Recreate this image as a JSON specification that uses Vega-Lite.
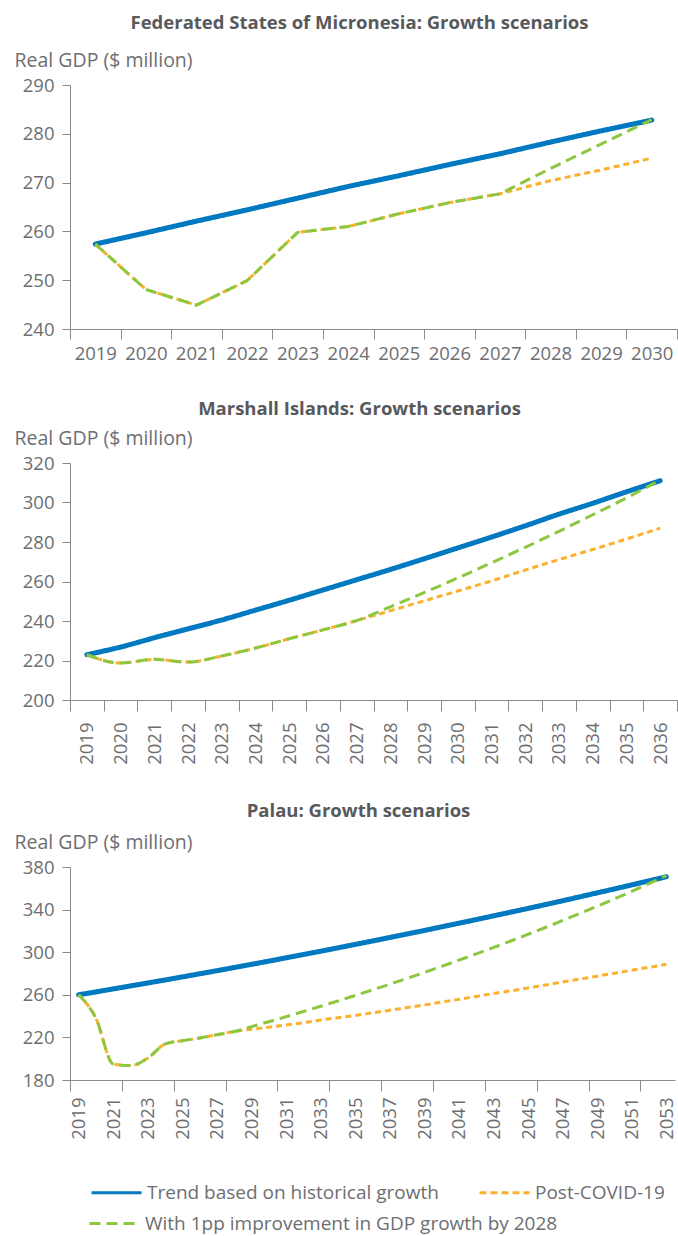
{
  "$schema": "https://vega.github.io/schema/vega-lite/v6.json",
  "padding": {"left": 14, "top": 13, "right": 0, "bottom": 0},
  "config": {
    "font": "Open Sans",
    "view": {"stroke": null},
    "axis": {"labelFont": "Open Sans", "labelFontSize": 18.5, "labelColor": "#6d6e71", "domainColor": "#8a8a8a", "tickColor": "#8a8a8a", "grid": false, "titleFont": "Open Sans", "titleFontSize": 19.5, "titleFontWeight": "normal", "titleColor": "#6d6e71"},
    "title": {"font": "Open Sans", "fontSize": 18.5, "fontWeight": "bold", "color": "#58595b", "anchor": "middle", "baseline": "bottom", "dx": -14},
    "concat": {"spacing": 36}
  },
  "resolve": {"scale": {"color": "independent", "strokeDash": "independent"}},
  "datasets": {
    "fsm": [
      {"year": 2019, "trend": 257.4, "covid": 257.4, "improve": 257.4},
      {"year": 2020, "trend": 259.7, "covid": 248.1, "improve": 248.1},
      {"year": 2021, "trend": 262.1, "covid": 244.9, "improve": 244.9},
      {"year": 2022, "trend": 264.4, "covid": 249.9, "improve": 249.9},
      {"year": 2023, "trend": 266.8, "covid": 259.8, "improve": 259.8},
      {"year": 2024, "trend": 269.2, "covid": 261.0, "improve": 261.0},
      {"year": 2025, "trend": 271.4, "covid": 263.6, "improve": 263.6},
      {"year": 2026, "trend": 273.7, "covid": 265.9, "improve": 265.9},
      {"year": 2027, "trend": 275.9, "covid": 267.7, "improve": 267.7},
      {"year": 2028, "trend": 278.3, "covid": 270.4, "improve": 272.9},
      {"year": 2029, "trend": 280.6, "covid": 272.6, "improve": 277.9},
      {"year": 2030, "trend": 282.8, "covid": 275.0, "improve": 282.9}
    ],
    "rmi": [
      {"year": 2019, "trend": 222.9, "covid": 222.9, "improve": 222.9},
      {"year": 2020, "trend": 226.8, "covid": 218.7, "improve": 218.7},
      {"year": 2021, "trend": 231.5, "covid": 220.6, "improve": 220.6},
      {"year": 2022, "trend": 236.0, "covid": 219.2, "improve": 219.2},
      {"year": 2023, "trend": 240.5, "covid": 222.3, "improve": 222.3},
      {"year": 2024, "trend": 245.5, "covid": 226.3, "improve": 226.3},
      {"year": 2025, "trend": 250.5, "covid": 231.0, "improve": 231.0},
      {"year": 2026, "trend": 255.7, "covid": 235.5, "improve": 235.5},
      {"year": 2027, "trend": 260.9, "covid": 240.2, "improve": 240.2},
      {"year": 2028, "trend": 266.1, "covid": 245.2, "improve": 247.2},
      {"year": 2029, "trend": 271.5, "covid": 250.2, "improve": 254.4},
      {"year": 2030, "trend": 277.0, "covid": 255.2, "improve": 261.8},
      {"year": 2031, "trend": 282.5, "covid": 260.3, "improve": 269.5},
      {"year": 2032, "trend": 288.2, "covid": 265.8, "improve": 277.3},
      {"year": 2033, "trend": 294.1, "covid": 271.1, "improve": 285.4},
      {"year": 2034, "trend": 299.6, "covid": 276.2, "improve": 293.8},
      {"year": 2035, "trend": 305.4, "covid": 281.5, "improve": 302.3},
      {"year": 2036, "trend": 311.0, "covid": 287.0, "improve": 311.4}
    ],
    "plw": [
      {"year": 2019, "trend": 260.0, "covid": 260.0, "improve": 260.0},
      {"year": 2020, "trend": 262.7, "covid": 238.0, "improve": 238.0},
      {"year": 2021, "trend": 265.5, "covid": 195.0, "improve": 195.0},
      {"year": 2022, "trend": 268.3, "covid": 193.5, "improve": 193.5},
      {"year": 2023, "trend": 271.1, "covid": 200.5, "improve": 200.5},
      {"year": 2024, "trend": 273.9, "covid": 213.8, "improve": 213.8},
      {"year": 2025, "trend": 276.8, "covid": 216.9, "improve": 216.9},
      {"year": 2026, "trend": 279.7, "covid": 219.4, "improve": 219.4},
      {"year": 2027, "trend": 282.6, "covid": 222.5, "improve": 222.5},
      {"year": 2028, "trend": 285.6, "covid": 225.5, "improve": 225.5},
      {"year": 2029, "trend": 288.6, "covid": 227.7, "improve": 230.1},
      {"year": 2030, "trend": 291.6, "covid": 229.5, "improve": 234.7},
      {"year": 2031, "trend": 294.7, "covid": 231.7, "improve": 239.4},
      {"year": 2032, "trend": 297.8, "covid": 233.8, "improve": 244.3},
      {"year": 2033, "trend": 300.9, "covid": 236.3, "improve": 249.2},
      {"year": 2034, "trend": 304.1, "covid": 238.5, "improve": 254.2},
      {"year": 2035, "trend": 307.3, "covid": 240.6, "improve": 259.4},
      {"year": 2036, "trend": 310.5, "covid": 243.1, "improve": 264.6},
      {"year": 2037, "trend": 313.8, "covid": 245.5, "improve": 270.0},
      {"year": 2038, "trend": 317.1, "covid": 248.0, "improve": 275.4},
      {"year": 2039, "trend": 320.4, "covid": 250.5, "improve": 281.0},
      {"year": 2040, "trend": 323.8, "covid": 253.2, "improve": 286.7},
      {"year": 2041, "trend": 327.2, "covid": 255.7, "improve": 292.5},
      {"year": 2042, "trend": 330.6, "covid": 258.5, "improve": 298.4},
      {"year": 2043, "trend": 334.1, "covid": 261.2, "improve": 304.4},
      {"year": 2044, "trend": 337.6, "covid": 263.7, "improve": 310.5},
      {"year": 2045, "trend": 341.1, "covid": 266.5, "improve": 316.8},
      {"year": 2046, "trend": 344.7, "covid": 269.2, "improve": 323.2},
      {"year": 2047, "trend": 348.3, "covid": 272.0, "improve": 329.8},
      {"year": 2048, "trend": 352.0, "covid": 274.8, "improve": 336.4},
      {"year": 2049, "trend": 355.7, "covid": 277.5, "improve": 343.2},
      {"year": 2050, "trend": 359.4, "covid": 280.3, "improve": 350.1},
      {"year": 2051, "trend": 363.2, "covid": 283.1, "improve": 357.2},
      {"year": 2052, "trend": 367.0, "covid": 285.8, "improve": 364.4},
      {"year": 2053, "trend": 370.8, "covid": 288.6, "improve": 371.8}
    ]
  },
  "vconcat": [
    {
      "title": {"text": "Federated States of Micronesia: Growth scenarios", "offset": 18},
      "width": 607, "height": 244,
      "data": {"name": "fsm"},
      "transform": [{"fold": ["trend", "covid", "improve"], "as": ["s", "v"]}],
      "encoding": {
        "x": {"field": "year", "type": "quantitative",
          "scale": {"domain": [2018.5, 2030.5], "nice": false, "zero": false},
          "axis": {"title": null, "values": [2018.5, 2019, 2019.5, 2020, 2020.5, 2021, 2021.5, 2022, 2022.5, 2023, 2023.5, 2024, 2024.5, 2025, 2025.5, 2026, 2026.5, 2027, 2027.5, 2028, 2028.5, 2029, 2029.5, 2030, 2030.5],
            "labelExpr": "datum.value % 1 == 0 ? '' + datum.value : ''", "labelAngle": 0, "labelOverlap": false, "labelFlush": false, "tickSize": 10, "labelPadding": 5,
            "tickOpacity": {"condition": {"test": "datum.value % 1 != 0", "value": 1}, "value": 0}}},
        "y": {"field": "v", "type": "quantitative",
          "scale": {"domain": [240, 290], "nice": false, "zero": false},
          "axis": {"title": "Real GDP ($ million)", "values": [240, 250, 260, 270, 280, 290], "tickSize": 8, "labelPadding": 8, "titleAngle": 0, "titleAlign": "left", "titleBaseline": "middle", "titleX": -56, "titleY": -25}},
        "color": {"field": "s", "type": "nominal", "scale": {"domain": ["trend", "covid", "improve"], "range": ["#0079c1", "#fbb12d", "#8dc63f"]}, "legend": null},
        "strokeDash": {"field": "s", "type": "nominal", "scale": {"domain": ["trend", "covid", "improve"], "range": [[1, 0], [6, 4], [11, 6]]}, "legend": null}
      },
      "layer": [
        {"transform": [{"filter": "datum.s == 'trend'"}], "mark": {"type": "line", "strokeWidth": 5, "strokeCap": "round"}},
        {"transform": [{"filter": "datum.s == 'covid'"}], "mark": {"type": "line", "strokeWidth": 3}},
        {"transform": [{"filter": "datum.s == 'improve'"}], "mark": {"type": "line", "strokeWidth": 3}}
      ]
    },
    {
      "title": {"text": "Marshall Islands: Growth scenarios", "offset": 10},
      "width": 607, "height": 237,
      "data": {"name": "rmi"},
      "transform": [{"fold": ["trend", "covid", "improve"], "as": ["s", "v"]}],
      "encoding": {
        "x": {"field": "year", "type": "quantitative",
          "scale": {"domain": [2018.5, 2036.5], "nice": false, "zero": false},
          "axis": {"title": null, "values": [2018.5, 2019, 2019.5, 2020, 2020.5, 2021, 2021.5, 2022, 2022.5, 2023, 2023.5, 2024, 2024.5, 2025, 2025.5, 2026, 2026.5, 2027, 2027.5, 2028, 2028.5, 2029, 2029.5, 2030, 2030.5, 2031, 2031.5, 2032, 2032.5, 2033, 2033.5, 2034, 2034.5, 2035, 2035.5, 2036, 2036.5],
            "labelExpr": "datum.value % 1 == 0 ? '' + datum.value : ''", "labelAngle": -90, "labelAlign": "right", "labelBaseline": "middle", "labelOverlap": false, "labelFlush": false, "tickSize": 11, "labelPadding": 11,
            "tickOpacity": {"condition": {"test": "datum.value % 1 != 0", "value": 1}, "value": 0}}},
        "y": {"field": "v", "type": "quantitative",
          "scale": {"domain": [200, 320], "nice": false, "zero": false},
          "axis": {"title": "Real GDP ($ million)", "values": [200, 220, 240, 260, 280, 300, 320], "tickSize": 8, "labelPadding": 8, "titleAngle": 0, "titleAlign": "left", "titleBaseline": "middle", "titleX": -56, "titleY": -25}},
        "color": {"field": "s", "type": "nominal", "scale": {"domain": ["trend", "covid", "improve"], "range": ["#0079c1", "#fbb12d", "#8dc63f"]}, "legend": null},
        "strokeDash": {"field": "s", "type": "nominal", "scale": {"domain": ["trend", "covid", "improve"], "range": [[1, 0], [6, 4], [11, 6]]}, "legend": null}
      },
      "layer": [
        {"transform": [{"filter": "datum.s == 'trend'"}], "mark": {"type": "line", "strokeWidth": 5, "strokeCap": "round", "interpolate": "monotone"}},
        {"transform": [{"filter": "datum.s == 'covid'"}], "mark": {"type": "line", "strokeWidth": 3, "interpolate": "monotone"}},
        {"transform": [{"filter": "datum.s == 'improve'"}], "mark": {"type": "line", "strokeWidth": 3, "interpolate": "monotone"}}
      ]
    },
    {
      "title": {"text": "Palau: Growth scenarios", "offset": 12},
      "width": 605, "height": 213,
      "data": {"name": "plw"},
      "transform": [{"fold": ["trend", "covid", "improve"], "as": ["s", "v"]}],
      "encoding": {
        "x": {"field": "year", "type": "quantitative",
          "scale": {"domain": [2018.5, 2053.5], "nice": false, "zero": false},
          "axis": {"title": null, "values": [2018.5, 2019, 2021, 2021.5, 2023, 2024.5, 2025, 2027, 2027.5, 2029, 2030.5, 2031, 2033, 2033.5, 2035, 2036.5, 2037, 2039, 2039.5, 2041, 2042.5, 2043, 2045, 2045.5, 2047, 2048.5, 2049, 2051, 2051.5, 2053],
            "labelExpr": "datum.value % 1 == 0 ? '' + datum.value : ''", "labelAngle": -90, "labelAlign": "right", "labelBaseline": "middle", "labelOverlap": false, "labelFlush": false, "tickSize": 11, "labelPadding": 6,
            "tickOpacity": {"condition": {"test": "datum.value % 1 != 0", "value": 1}, "value": 0}}},
        "y": {"field": "v", "type": "quantitative",
          "scale": {"domain": [180, 380], "nice": false, "zero": false},
          "axis": {"title": "Real GDP ($ million)", "values": [180, 220, 260, 300, 340, 380], "tickSize": 8, "labelPadding": 8, "titleAngle": 0, "titleAlign": "left", "titleBaseline": "middle", "titleX": -56, "titleY": -25}},
        "color": {"field": "s", "type": "nominal", "scale": {"domain": ["trend", "covid", "improve"], "range": ["#0079c1", "#fbb12d", "#8dc63f"]},
          "legend": {"orient": "none", "legendX": 20, "legendY": 299, "direction": "horizontal", "values": ["trend", "covid"], "title": null, "symbolType": "stroke", "symbolSize": 2500, "symbolStrokeWidth": 3, "labelFont": "Open Sans", "labelFontSize": 19, "labelColor": "#6d6e71", "labelLimit": 0, "columnPadding": 34, "labelOffset": 4,
            "labelExpr": "datum.label == 'trend' ? 'Trend based on historical growth' : 'Post-COVID-19'",
            "encode": {"symbols": {"update": {"strokeDash": {"signal": "datum.value == 'covid' ? [7, 4] : [1, 0]"}}}}}},
        "strokeDash": {"field": "s", "type": "nominal", "scale": {"domain": ["improve", "covid", "trend"], "range": [[11, 6], [6, 4], [1, 0]]},
          "legend": {"orient": "none", "legendX": 18, "legendY": 330, "direction": "horizontal", "values": ["improve"], "title": null, "symbolType": "stroke", "symbolSize": 2500, "symbolStrokeWidth": 3, "symbolStrokeColor": "#8dc63f", "labelFont": "Open Sans", "labelFontSize": 19, "labelColor": "#6d6e71", "labelLimit": 0, "labelOffset": 4,
            "labelExpr": "'With 1pp improvement in GDP growth by 2028'",
            "encode": {"symbols": {"update": {"stroke": {"value": "#8dc63f"}, "strokeDash": {"value": [6, 3]}}}}}}
      },
      "layer": [
        {"transform": [{"filter": "datum.s == 'trend'"}], "mark": {"type": "line", "strokeWidth": 5, "strokeCap": "round", "interpolate": "monotone"}},
        {"transform": [{"filter": "datum.s == 'covid'"}], "mark": {"type": "line", "strokeWidth": 3, "interpolate": "monotone"}},
        {"transform": [{"filter": "datum.s == 'improve'"}], "mark": {"type": "line", "strokeWidth": 3, "interpolate": "monotone"}}
      ]
    }
  ]
}
